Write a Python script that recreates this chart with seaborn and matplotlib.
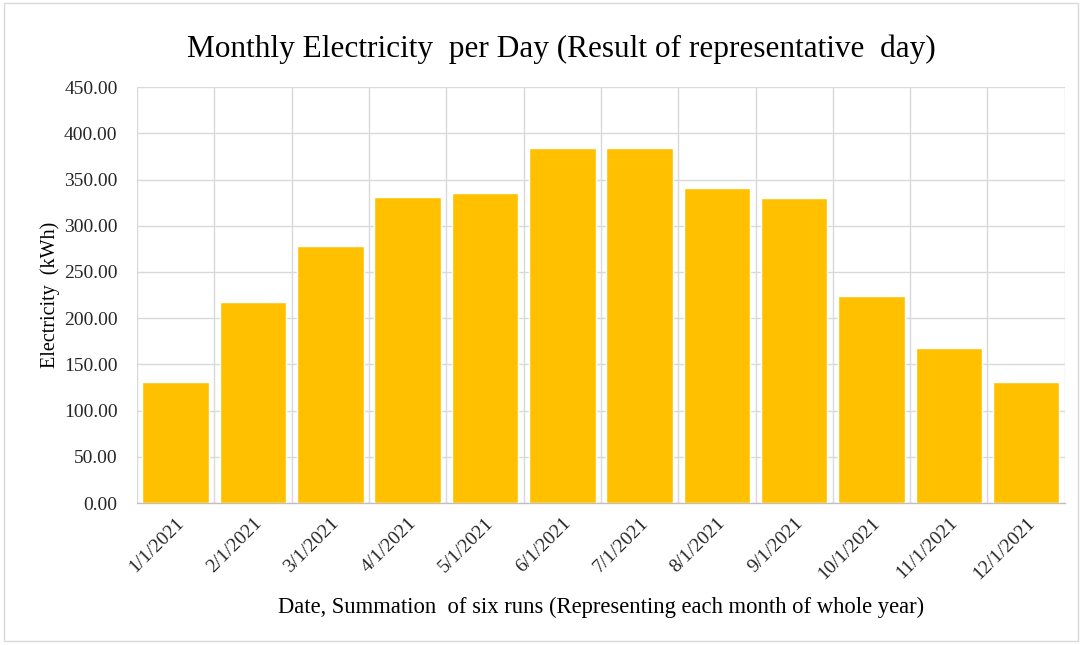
import matplotlib
matplotlib.use("Agg")
import matplotlib.pyplot as plt
import seaborn as sns
import pandas as pd
import numpy as np
from matplotlib.patches import Rectangle

dates = ["1/1/2021", "2/1/2021", "3/1/2021", "4/1/2021", "5/1/2021", "6/1/2021",
         "7/1/2021", "8/1/2021", "9/1/2021", "10/1/2021", "11/1/2021", "12/1/2021"]
electricity = [131.2, 217.8, 278.4, 331.4, 335.0, 384.4,
               384.4, 340.4, 329.6, 224.3, 168.0, 131.2]
yticks = [0, 50, 100, 150, 200, 250, 300, 350, 400, 450]

df = pd.DataFrame({"Date": dates, "Electricity": electricity})

sns.set_theme(style="white")
plt.rcParams["font.family"] = ["Liberation Serif", "DejaVu Serif"]

fig = plt.figure(figsize=(10.8, 6.45), dpi=100)
ax = fig.add_axes([0.1269, 0.220, 0.859, 0.645])

sns.barplot(data=df, x="Date", y="Electricity", color="#FFC000",
            saturation=1, width=0.86, ax=ax, zorder=3)

ax.set_ylim(0, 450)
ax.set_xlim(-0.5, len(dates) - 0.5)
ax.set_yticks(yticks)
ax.set_yticklabels([f"{v:.2f}" for v in yticks], fontsize=14, color="#262626")
ax.set_xticks(range(len(dates)))
ax.set_xticklabels(dates, rotation=45, ha="right", rotation_mode="anchor",
                   fontsize=14, color="#262626")
ax.set_xticks(np.arange(-0.5, len(dates), 1.0), minor=True)

ax.grid(axis="y", which="major", color="#D9D9D9", linewidth=1.0, zorder=0)
ax.grid(axis="x", which="minor", color="#D9D9D9", linewidth=1.0, zorder=0)
ax.grid(axis="x", which="major", visible=False)
ax.tick_params(axis="y", which="both", length=0, pad=14)
ax.tick_params(axis="x", which="both", length=0, pad=8)

for side in ["top", "right", "left"]:
    ax.spines[side].set_visible(False)
ax.spines["bottom"].set_color("#BFBFBF")
ax.spines["bottom"].set_linewidth(1.0)

ax.set_xlabel("Date, Summation  of six runs (Representing each month of whole year)",
              fontsize=16.3, color="#000000", labelpad=10)
ax.set_ylabel("Electricity  (kWh)", fontsize=14.5, color="#000000", labelpad=3)
fig.text(0.52, 0.923, "Monthly Electricity  per Day (Result of representative  day)",
         ha="center", va="center", fontsize=22.5, color="#000000")

fig.patches.append(Rectangle((0.004, 0.006), 0.994, 0.99, transform=fig.transFigure,
                             fill=False, edgecolor="#D9D9D9", linewidth=1.0))

fig.savefig("out.png", dpi=100)
